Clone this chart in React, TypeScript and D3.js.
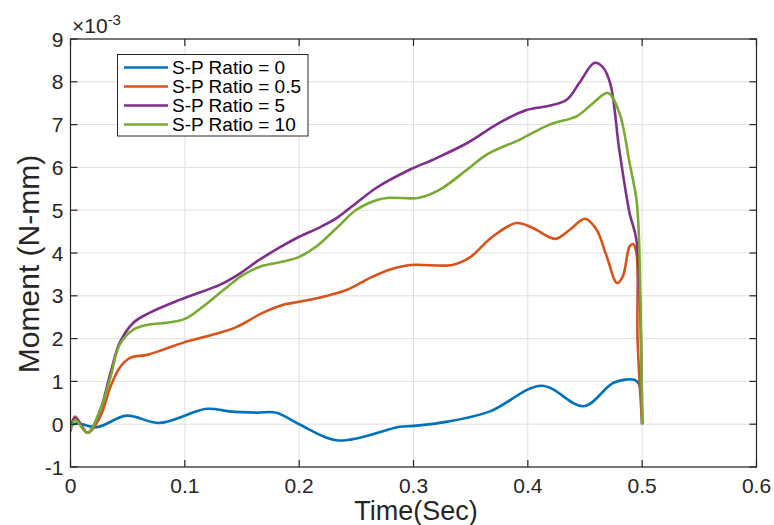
import React from 'react';
import * as d3 from 'd3';

// values in units of 1e-3 N-mm
const seriesNames = ['S-P Ratio = 0', 'S-P Ratio = 0.5', 'S-P Ratio = 5', 'S-P Ratio = 10'];
const seriesColors = ['#0072BD', '#D95319', '#7E2F8E', '#77AC30'];

const ratio0: [number, number][] = [
  [0, -0.03], [0.006, 0.02], [0.023, -0.07], [0.049, 0.2], [0.078, 0.03], [0.119, 0.36],
  [0.139, 0.3], [0.163, 0.27], [0.18, 0.27], [0.2, 0], [0.234, -0.38], [0.288, -0.06],
  [0.3, -0.04], [0.33, 0.06], [0.367, 0.3], [0.412, 0.9], [0.449, 0.42], [0.475, 0.97],
  [0.493, 1.04], [0.497, 0.95], [0.5, 0],
];
const ratio05: [number, number][] = [
  [0, -0.17], [0.004, 0.18], [0.015, -0.2], [0.026, 0.18], [0.035, 0.88], [0.043, 1.32],
  [0.052, 1.55], [0.067, 1.62], [0.081, 1.74], [0.098, 1.9], [0.131, 2.14], [0.146, 2.28],
  [0.168, 2.6], [0.186, 2.79], [0.2, 2.86], [0.221, 2.98], [0.242, 3.14], [0.262, 3.42],
  [0.279, 3.61], [0.297, 3.72], [0.334, 3.72], [0.349, 3.89], [0.369, 4.38], [0.39, 4.7],
  [0.404, 4.59], [0.424, 4.33], [0.437, 4.55], [0.45, 4.8], [0.46, 4.55], [0.469, 3.92],
  [0.478, 3.3], [0.483, 3.45], [0.489, 4.15], [0.492, 4.21], [0.495, 4.0], [0.496, 1.97],
  [0.5, 0],
];
const ratio5: [number, number][] = [
  [0, -0.13], [0.004, 0.15], [0.015, -0.2], [0.026, 0.33], [0.035, 1.2], [0.043, 1.9],
  [0.055, 2.37], [0.069, 2.6], [0.096, 2.91], [0.131, 3.26], [0.147, 3.5], [0.164, 3.82],
  [0.183, 4.13], [0.2, 4.38], [0.218, 4.6], [0.233, 4.82], [0.25, 5.17], [0.268, 5.53],
  [0.297, 5.95], [0.317, 6.18], [0.347, 6.57], [0.375, 7.04], [0.399, 7.34], [0.419, 7.44],
  [0.434, 7.58], [0.445, 7.97], [0.458, 8.44], [0.465, 8.36], [0.472, 7.97], [0.48, 6.41],
  [0.489, 4.93], [0.495, 4.3], [0.5, 0],
];
const ratio10: [number, number][] = [
  [0, -0.13], [0.004, 0.1], [0.015, -0.2], [0.026, 0.33], [0.035, 1.1], [0.043, 1.86],
  [0.055, 2.21], [0.069, 2.33], [0.084, 2.37], [0.1, 2.46], [0.116, 2.75], [0.134, 3.14],
  [0.151, 3.49], [0.168, 3.7], [0.186, 3.8], [0.2, 3.91], [0.215, 4.15], [0.233, 4.59],
  [0.25, 5.01], [0.268, 5.24], [0.279, 5.29], [0.305, 5.29], [0.323, 5.48], [0.347, 5.95],
  [0.364, 6.3], [0.393, 6.65], [0.419, 7.0], [0.443, 7.2], [0.457, 7.5], [0.47, 7.74],
  [0.48, 7.28], [0.489, 6.1], [0.495, 5.25], [0.497, 4.47], [0.5, 0],
];
const allSeries = [ratio0, ratio05, ratio5, ratio10];

const xTicks = [0, 0.1, 0.2, 0.3, 0.4, 0.5, 0.6];
const yTicks = [-1, 0, 1, 2, 3, 4, 5, 6, 7, 8, 9];

const App = () => {
  const left = 70.5, right = 756.5, top = 39, bottom = 467;
  const x = d3.scaleLinear().domain([0, 0.6]).range([left, right]);
  const y = d3.scaleLinear().domain([-1, 9]).range([bottom, top]);
  const line = d3.line<[number, number]>()
    .x(d => x(d[0]))
    .y(d => y(d[1]))
    .curve(d3.curveCatmullRom.alpha(0.5));
  const axisColor = '#262626';
  const font = '"Liberation Sans", Arial, Helvetica, sans-serif';
  const tl = 7;

  return (
    <svg width={774} height={525} style={{ position: 'absolute', left: 0, top: 0, background: '#fff' }}>
      <rect x={0} y={0} width={774} height={525} fill="#fff" />
      {/* grid */}
      {xTicks.map(t => (
        <line key={'gx' + t} x1={x(t)} x2={x(t)} y1={top} y2={bottom} stroke="#dfdfdf" strokeWidth={1} />
      ))}
      {yTicks.map(t => (
        <line key={'gy' + t} x1={left} x2={right} y1={y(t)} y2={y(t)} stroke="#dfdfdf" strokeWidth={1} />
      ))}
      {/* lines */}
      <g clipPath="url(#clip)">
        {allSeries.map((s, i) => (
          <path key={i} d={line(s) || ''} fill="none" stroke={seriesColors[i]} strokeWidth={2.6} strokeLinejoin="round" />
        ))}
      </g>
      {/* box + ticks */}
      <rect x={left} y={top} width={right - left} height={bottom - top} fill="none" stroke={axisColor} strokeWidth={1.2} />
      {xTicks.map(t => (
        <g key={'tx' + t}>
          <line x1={x(t)} x2={x(t)} y1={bottom} y2={bottom - tl} stroke={axisColor} strokeWidth={1.2} />
          <line x1={x(t)} x2={x(t)} y1={top} y2={top + tl} stroke={axisColor} strokeWidth={1.2} />
          <text x={x(t)} y={493} textAnchor="middle" fontFamily={font} fontSize={21} fill={axisColor}>{t}</text>
        </g>
      ))}
      {yTicks.map(t => (
        <g key={'ty' + t}>
          <line x1={left} x2={left + tl} y1={y(t)} y2={y(t)} stroke={axisColor} strokeWidth={1.2} />
          <line x1={right} x2={right - tl} y1={y(t)} y2={y(t)} stroke={axisColor} strokeWidth={1.2} />
          <text x={left - 7} y={y(t) + 7.5} textAnchor="end" fontFamily={font} fontSize={21} fill={axisColor}>{t}</text>
        </g>
      ))}
      {/* exponent */}
      <text x={72} y={33} fontFamily={font} fontSize={21} fill={axisColor}>
        ×10<tspan dy={-8} fontSize={15}>-3</tspan>
      </text>
      {/* axis labels */}
      <text x={416} y={520} textAnchor="middle" fontFamily={font} fontSize={27} fill={axisColor}>Time(Sec)</text>
      <text transform={`translate(39,264) rotate(-90)`} textAnchor="middle" fontFamily={font} fontSize={30} fill={axisColor}>Moment (N-mm)</text>
      {/* legend */}
      <g>
        <rect x={117.5} y={54.5} width={190.5} height={81.5} fill="#fff" stroke={axisColor} strokeWidth={1} />
        {seriesNames.map((n, i) => (
          <g key={n}>
            <line x1={124} x2={168} y1={67.5 + i * 19} y2={67.5 + i * 19} stroke={seriesColors[i]} strokeWidth={2.6} />
            <text x={172} y={67.5 + i * 19 + 6.5} fontFamily={font} fontSize={19} fill="#000">{n}</text>
          </g>
        ))}
      </g>
      <defs>
        <clipPath id="clip">
          <rect x={left} y={top} width={right - left} height={bottom - top} />
        </clipPath>
      </defs>
    </svg>
  );
};

export default App;
